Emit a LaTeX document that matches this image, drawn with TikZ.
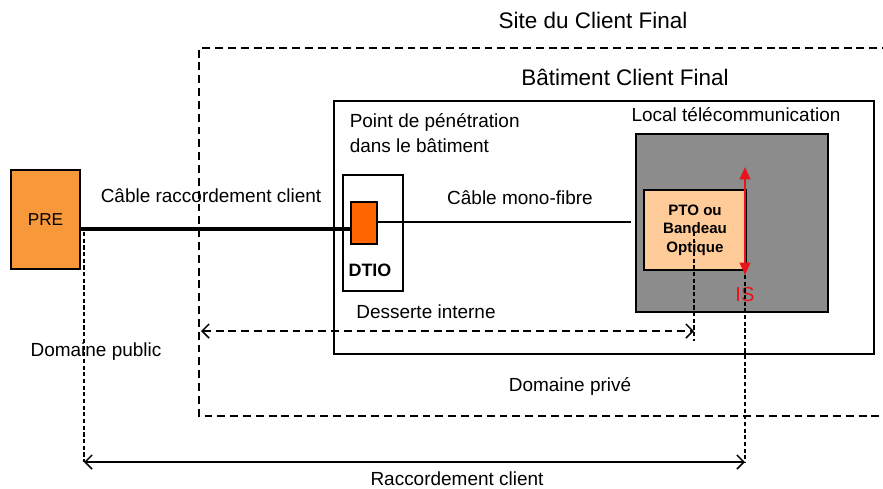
\documentclass[tikz,border=0pt]{standalone}
\usepackage{fontspec}
\setmainfont{Liberation Sans}
\usetikzlibrary{arrows.meta}

\definecolor{preorange}{HTML}{F7993B}
\definecolor{dtioorange}{HTML}{FF6600}
\definecolor{ptopeach}{HTML}{FFCC99}
\definecolor{localgray}{HTML}{8C8C8C}
\definecolor{isred}{HTML}{E8141B}

\begin{document}
\begin{tikzpicture}[x=0.02cm, y=-0.02cm, every node/.style={inner sep=0pt}, every path/.style={line width=0.85pt},
        txt/.style={font=\fontsize{10.8}{14}\selectfont},
        title/.style={font=\fontsize{12.8}{15}\selectfont},
        box/.style={draw, line width=0.85pt},
        bigdash/.style={dash pattern=on 4.5pt off 2.8pt},
        smalldash/.style={line width=0.75pt, dash pattern=on 2.4pt off 1.4pt},
        dimarrow/.style={{Straight Barb[length=4pt,width=8pt]}-{Straight Barb[length=4pt,width=8pt]}}]
        
        \useasboundingbox (0,0) rectangle (883,488);
        
        % zones
        \draw[bigdash] (890,48) -- (199,48) -- (199,416) -- (890,416);
        \node[title] (site) at (593,20) {Site du Client Final};
        \node[box, minimum width=10.8cm, minimum height=5.06cm] (bat) at (604,227.5) {};
        \node[title] (battitle) at (625,77) {Bâtiment Client Final};
        \node[txt, align=left, anchor=north west] (pen) at (349,113) {Point de pénétration\\dans le bâtiment};
        \node[txt] (localtitle) at (736,115) {Local télécommunication};
        
        % boxes
        \node[box, fill=localgray, minimum width=3.84cm, minimum height=3.56cm] (local) at (732,223) {};
        \node[box, fill=ptopeach, minimum width=2.04cm, minimum height=1.6cm, align=center,
              font=\fontsize{8.6}{10.5}\selectfont\bfseries] (pto) at (695,230) {PTO ou\\Bandeau\\Optique};
        \node[box, fill=preorange, minimum width=1.38cm, minimum height=1.98cm, font=\fontsize{9.8}{11}\selectfont] (pre) at (45.5,219.5) {PRE};
        \node[box, minimum width=1.2cm, minimum height=2.32cm] (dtiobox) at (373,233) {};
        \node[box, fill=dtioorange, minimum width=0.52cm, minimum height=0.84cm] (dtio) at (364,223) {};
        \node[font=\fontsize{10.2}{12}\selectfont\bfseries] (dtiolabel) at (370,270) {DTIO};
        
        % cables
        \coordinate (fibreend) at (631,222);
        \draw[line width=2.8pt] (pre.east |- 0,229) -- (dtio.west |- 0,229);
        \draw (dtio.east |- 0,222) -- (fibreend);
        \node[txt] (cablerac) at (211,196) {Câble raccordement client};
        \node[txt] (cablemono) at (520,198) {Câble mono-fibre};
        
        % IS
        \coordinate (istop) at (745,167);
        \coordinate (isbot) at (745,275);
        \draw[isred, line width=1.2pt, {Triangle[length=7pt,width=6pt]}-{Triangle[length=7pt,width=6pt]}] (istop) -- (isbot);
        \node[font=\fontsize{11.5}{14}\selectfont, text=isred] (is) at (745,295) {IS};
        
        % extents
        \coordinate (raccL) at (84,462);
        \coordinate (raccR) at (745,462);
        \coordinate (dessL) at (201,331);
        \coordinate (dessR) at (694,331);
        \draw[smalldash] (84,232) -- (raccL);
        \draw[smalldash] (isbot) -- (raccR);
        \draw[smalldash] (694,232) -- (694,341);
        \draw[dimarrow, bigdash] (dessL) -- (dessR);
        \draw[dimarrow] (raccL) -- (raccR);
        \node[txt] (desserte) at (426,312) {Desserte interne};
        \node[txt] (raccord) at (457,479) {Raccordement client};
        \node[txt] (public) at (96,352) {Domaine public};
        \node[txt] (prive) at (570,386) {Domaine privé};
        
        \end{tikzpicture}
\end{document}
